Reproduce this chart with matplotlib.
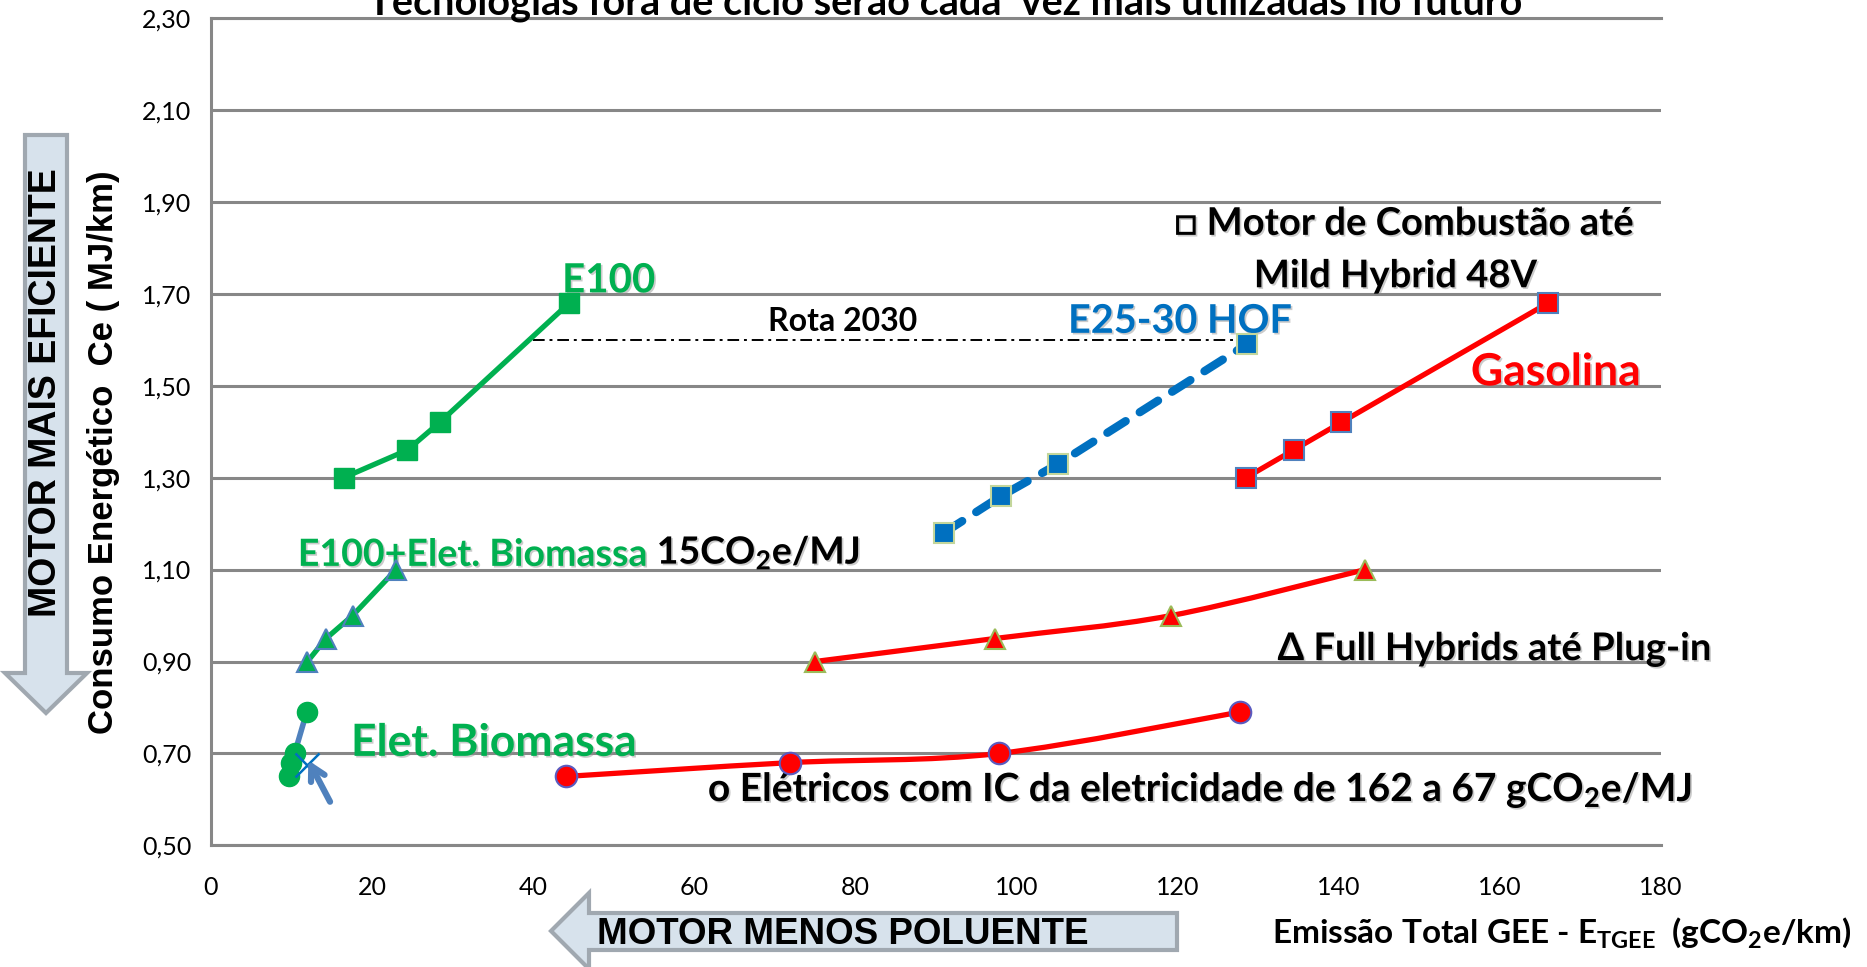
import numpy as np
import matplotlib.pyplot as plt
import matplotlib.patheffects as pe
from matplotlib import font_manager
from matplotlib.path import Path
from matplotlib.patches import PathPatch, Polygon

# ---- data ----
# E100 (green squares)
e100_x = [16.5, 24.4, 28.4, 44.5]
e100_y = [1.30, 1.36, 1.42, 1.68]
# E25-30 HOF (blue squares, dashed)
hof_x = [91.0, 98.1, 105.2, 128.6]
hof_y = [1.18, 1.26, 1.33, 1.59]
# Gasolina (red squares)
gas_x = [128.5, 134.4, 140.3, 166.0]
gas_y = [1.30, 1.36, 1.42, 1.68]
# E100 + Elet. Biomassa (green triangles)
e100bio_x = [12.0, 14.3, 17.6, 23.0]
e100bio_y = [0.90, 0.95, 1.00, 1.10]
# Full hybrids gasolina (red triangles)
hyb_x = [75.0, 97.3, 119.2, 143.3]
hyb_y = [0.90, 0.95, 1.00, 1.10]
# Eletricos biomassa (green circles)
elbio_x = [9.7, 10.0, 10.4, 11.9]
elbio_y = [0.65, 0.68, 0.70, 0.79]
# Eletricos rede (red circles)
elec_x = [44.1, 71.9, 97.8, 127.7]
elec_y = [0.65, 0.68, 0.70, 0.79]
# Rota 2030 target line
rota_x = [40.0, 128.6]
rota_y = [1.60, 1.60]
# small blue cross + arrow near Elet. Biomassa
cross_x, cross_y = 12.0, 0.675
arrow_from = (14.8, 0.595)
arrow_to = (12.1, 0.685)

x_ticks = list(range(0, 181, 20))
y_ticks = [0.5, 0.7, 0.9, 1.1, 1.3, 1.5, 1.7, 1.9, 2.1, 2.3]
y_labels = ['%.2f' % v for v in y_ticks]
y_labels = [s.replace('.', ',') for s in y_labels]

GREEN = '#00B050'
RED = '#FF0000'
BLUE = '#0070C0'
STEEL = '#4F81BD'
GRID = '#878787'

W, H = 1867, 967

names = {f.name for f in font_manager.fontManager.ttflist}
TICKFONT = 'Liberation Sans Narrow' if 'Liberation Sans Narrow' in names else 'Lato'
CAL = ['Lato', 'DejaVu Sans']
ARIAL = ['Liberation Sans', 'DejaVu Sans']
plt.rcParams['mathtext.default'] = 'regular'

shadow = [pe.SimplePatchShadow(offset=(1.2, -1.2), shadow_rgbFace='0.55', alpha=0.45), pe.Normal()]


def smooth_path(x, y):
    # catmull-rom style curve like excel "smoothed line"
    pts = np.column_stack([x, y])
    verts = [pts[0]]
    codes = [Path.MOVETO]
    n = len(pts)
    for i in range(n - 1):
        p0 = pts[i - 1] if i > 0 else pts[i]
        p1 = pts[i]
        p2 = pts[i + 1]
        p3 = pts[i + 2] if i + 2 < n else pts[i + 1]
        verts += [p1 + (p2 - p0) / 6, p2 - (p3 - p1) / 6, p2]
        codes += [Path.CURVE4] * 3
    return Path(verts, codes)


def px(x, y):
    return (x / W, 1 - y / H)


fig = plt.figure(figsize=(W / 100, H / 100), dpi=100)
ax = fig.add_axes([210.8 / W, 1 - 845.4 / H, (1661 - 210.8) / W, (845.4 - 17.9) / H])

ax.set_xlim(0, 180)
ax.set_ylim(0.5, 2.3)
ax.set_xticks(x_ticks)
ax.set_yticks(y_ticks)
ax.set_yticklabels(y_labels)
ax.tick_params(length=0, labelsize=18)
ax.tick_params(axis='y', pad=14)
ax.tick_params(axis='x', pad=22)
for lab in ax.get_xticklabels() + ax.get_yticklabels():
    lab.set_family(TICKFONT)
ax.yaxis.grid(True, color=GRID, lw=2.2)
ax.set_axisbelow(True)
for s in ['top', 'bottom', 'left']:
    ax.spines[s].set_color(GRID)
    ax.spines[s].set_linewidth(2.2)
ax.spines['right'].set_visible(False)

# series
ax.plot(e100_x, e100_y, color=GREEN, lw=3.8, marker='s', ms=14.5, mfc=GREEN, mec=GREEN, zorder=4)
ax.plot(hof_x, hof_y, color=BLUE, lw=6, ls=(0, (2.6, 2.0)), dash_capstyle='round',
        marker='s', ms=14.5, mfc=BLUE, mec='#C3D69B', mew=1.5, zorder=4)
ax.plot(gas_x, gas_y, color=RED, lw=3.8, marker='s', ms=15, mfc=RED, mec=STEEL, mew=1.5, zorder=4)
ax.plot(e100bio_x, e100bio_y, color=GREEN, lw=3.8, marker='^', ms=14, mfc=GREEN, mec=STEEL, mew=1.5, zorder=4)
ax.plot(elbio_x, elbio_y, color=STEEL, lw=4, zorder=3)
ax.plot(elbio_x, elbio_y, ls='none', marker='o', ms=14.5, mfc=GREEN, mec=GREEN, zorder=4)

ax.add_patch(PathPatch(smooth_path(hyb_x, hyb_y), fill=False, color=RED, lw=3.8, zorder=3))
ax.plot(hyb_x, hyb_y, ls='none', marker='^', ms=14, mfc=RED, mec='#9BBB59', mew=1.5, zorder=4)
ax.add_patch(PathPatch(smooth_path(elec_x, elec_y), fill=False, color=RED, lw=3.8, zorder=3))
ax.plot(elec_x, elec_y, ls='none', marker='o', ms=15.5, mfc=RED, mec='#5B5BC0', mew=1.5, zorder=4)

ax.plot(rota_x, rota_y, color='black', lw=1.4, ls=(0, (6, 2.5, 1.5, 2.5)), zorder=3)

ax.plot(cross_x, cross_y, marker='x', ms=17, mew=1.8, color=BLUE, zorder=5)
ax.annotate('', xy=arrow_to, xytext=arrow_from,
            arrowprops=dict(arrowstyle='->,head_length=1.0,head_width=0.55', color=STEEL, lw=4.5,
                            shrinkA=0, shrinkB=0),
            zorder=5)

# labels in chart
ax.text(43.6, 1.728, 'E100', color=GREEN, fontsize=29, fontweight='bold', family=CAL,
        va='center', path_effects=shadow)
ax.text(69.1, 1.639, 'Rota 2030', color='black', fontsize=23, fontweight='bold', family=CAL,
        va='center')
ax.text(106.4, 1.640, 'E25-30 HOF', color=BLUE, fontsize=28.5, fontweight='bold', family=CAL,
        va='center', path_effects=shadow)
ax.text(176.7, 1.852, '\u25a1 Motor de Combustão até', color='black', fontsize=27.5, fontweight='bold',
        family=CAL, va='center', ha='right', path_effects=shadow)
ax.text(147.1, 1.738, 'Mild Hybrid 48V', color='black', fontsize=27.5, fontweight='bold',
        family=CAL, va='center', ha='center', path_effects=shadow)
ax.text(156.4, 1.529, 'Gasolina', color=RED, fontsize=32, fontweight='bold', family=CAL,
        va='center', path_effects=shadow)
t1 = ax.text(10.8, 1.132, 'E100+Elet. Biomassa', color=GREEN, fontsize=27, fontweight='bold',
             family=CAL, va='center', path_effects=shadow)
ax.annotate(' 15CO$_2$e/MJ', xy=(1, 0), xycoords=t1, va='bottom', ha='left', color='black',
            fontsize=27, fontweight='bold', family=CAL, path_effects=shadow)
ax.text(17.4, 0.723, 'Elet. Biomassa', color=GREEN, fontsize=32, fontweight='bold', family=CAL,
        va='center', path_effects=shadow)
ax.text(61.7, 0.621, 'o Elétricos com IC da eletricidade de 162 a 67 gCO$_2$e/MJ', color='black',
        fontsize=28, fontweight='bold', family=CAL, va='center', clip_on=False, path_effects=shadow)
ax.text(132.4, 0.927, '\u0394 Full Hybrids até Plug-in', color='black', fontsize=27.5, fontweight='bold',
        family=CAL, va='center', clip_on=False, path_effects=shadow)

# axis titles
fig.text(1272 / W, 1 - 933 / H, 'Emissão Total GEE - E$_{TGEE}$  (gCO$_2$e/km)', fontsize=24,
         fontweight='bold', family=CAL, va='center', ha='left')
fig.text(103 / W, 1 - 452 / H, 'Consumo Energético  Ce ( MJ/km)', rotation=90, fontsize=25,
         fontweight='bold', family=ARIAL, va='center', ha='center')
fig.text(945 / W, 1 - 15 / H, 'Tecnologias fora de ciclo serão cada  vez mais utilizadas no futuro',
         fontsize=28.5, fontweight='bold', family=CAL, va='baseline', ha='center')

# big arrows
down = [px(25, 135), px(67, 135), px(67, 673), px(87, 673), px(46, 713), px(5, 673), px(25, 673)]
fig.patches.append(Polygon(down, closed=True, transform=fig.transFigure, facecolor='#D7E2EC',
                           edgecolor='#A0A8B0', lw=3))
fig.text(46 / W, 1 - 393 / H, 'MOTOR MAIS EFICIENTE', rotation=90, fontsize=27, fontweight='bold',
         family=ARIAL, va='center', ha='center')
left = [px(1177, 913), px(1177, 950), px(589, 950), px(589, 969), px(551, 931), px(589, 893), px(589, 913)]
fig.patches.append(Polygon(left, closed=True, transform=fig.transFigure, facecolor='#D7E2EC',
                           edgecolor='#A0A8B0', lw=3))
fig.text(843 / W, 1 - 934 / H, 'MOTOR MENOS POLUENTE', fontsize=26.5, fontweight='bold',
         family=ARIAL, va='center', ha='center')

fig.savefig('out.png', dpi=100)
